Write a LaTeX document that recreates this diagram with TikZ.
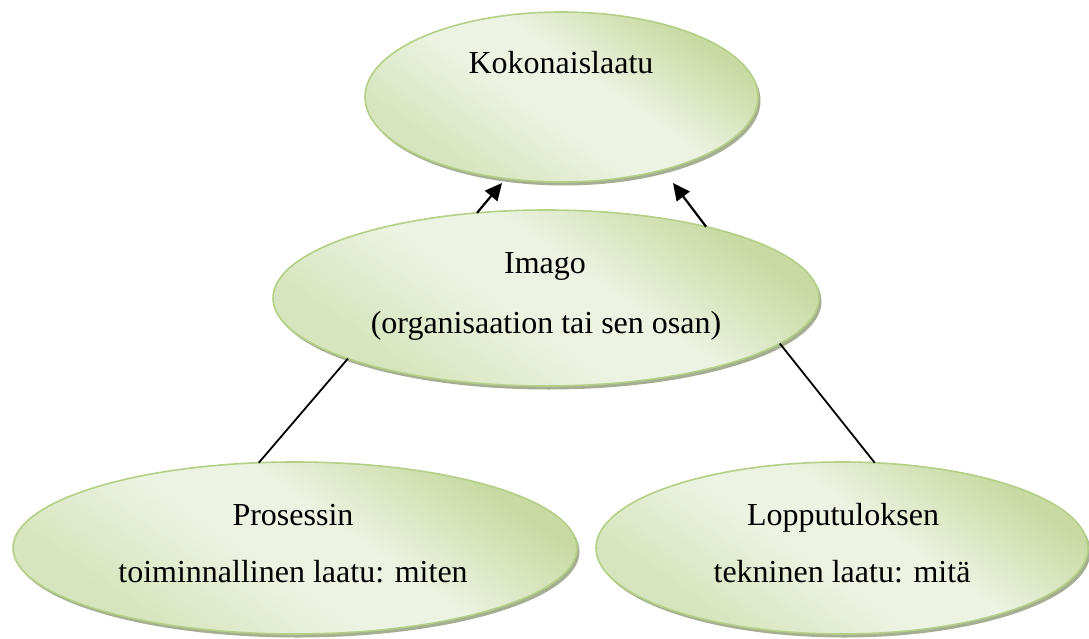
\documentclass[tikz,border=0pt]{standalone}
\usepackage{fontspec}
\setmainfont{Liberation Serif}
\usetikzlibrary{shapes.geometric,arrows.meta,shadows}

\definecolor{gdark}{HTML}{C8DAA2}
\definecolor{glight}{HTML}{EDF3E2}
\definecolor{gmid}{HTML}{D6E5BD}
\definecolor{gedge}{HTML}{B4CF86}
\definecolor{gshadow}{HTML}{A6AE92}

% soft diagonal fill: darker top-right, light centre, medium lower-left
\pgfdeclareverticalshading{bubblefill}{100bp}{%
  color(0bp)=(gmid); color(28bp)=(gmid); color(46bp)=(glight);
  color(56bp)=(glight); color(74bp)=(gdark); color(100bp)=(gdark)}

\tikzset{
  bubble/.style={ellipse, inner sep=0pt, outer sep=0pt,
    draw=gedge, line width=1.6pt,
    shading=bubblefill, shading angle=-35,
    general shadow={shadow xshift=2.5pt, shadow yshift=-3.5pt, fill=gshadow}},
  lbl/.style={anchor=base, inner sep=0pt, font=\fontsize{32}{38}\selectfont},
  link/.style={draw=black, line width=1.8pt},
  uparrow/.style={link, line width=2.2pt, -{Triangle[length=17pt,width=16pt]}}
}

\begin{document}
\begin{tikzpicture}[x=1pt, y=-1pt]
  \useasboundingbox (0,0) rectangle (1089,639);

  % ellipses
  \node[bubble, minimum width=393pt, minimum height=170pt] (koko) at (561.5,97) {};
  \node[bubble, minimum width=546pt, minimum height=176pt] (imago) at (546,298) {};
  \node[bubble, minimum width=564pt, minimum height=172pt] (proc) at (295,548) {};
  \node[bubble, minimum width=492pt, minimum height=172pt] (tulos) at (842,548) {};

  % texts
  \node[lbl] (tkoko) at (561,74) {Kokonaislaatu};
  \node[lbl] (timago1) at (545,273) {Imago};
  \node[lbl] (timago2) at (546,333) {(organisaation tai sen osan)};
  \node[lbl] (tproc1) at (293,525) {Prosessin};
  \node[lbl] (tproc2) at (293,582) {toiminnallinen laatu: miten};
  \node[lbl] (ttulos1) at (843,525) {Lopputuloksen};
  \node[lbl] (ttulos2) at (842,582) {tekninen laatu: mitä};

  % arrow ends just below the top ellipse
  \coordinate (kokoL) at (502,183);
  \coordinate (kokoR) at (673,183);

  % connectors
  \draw[uparrow] (imago.129) -- (kokoL);
  \draw[uparrow] (imago.24.7) -- (kokoR);
  \draw[link] (imago.197.8) -- (proc.113);
  \draw[link] (imago.349.6) -- (tulos.69);
\end{tikzpicture}
\end{document}
